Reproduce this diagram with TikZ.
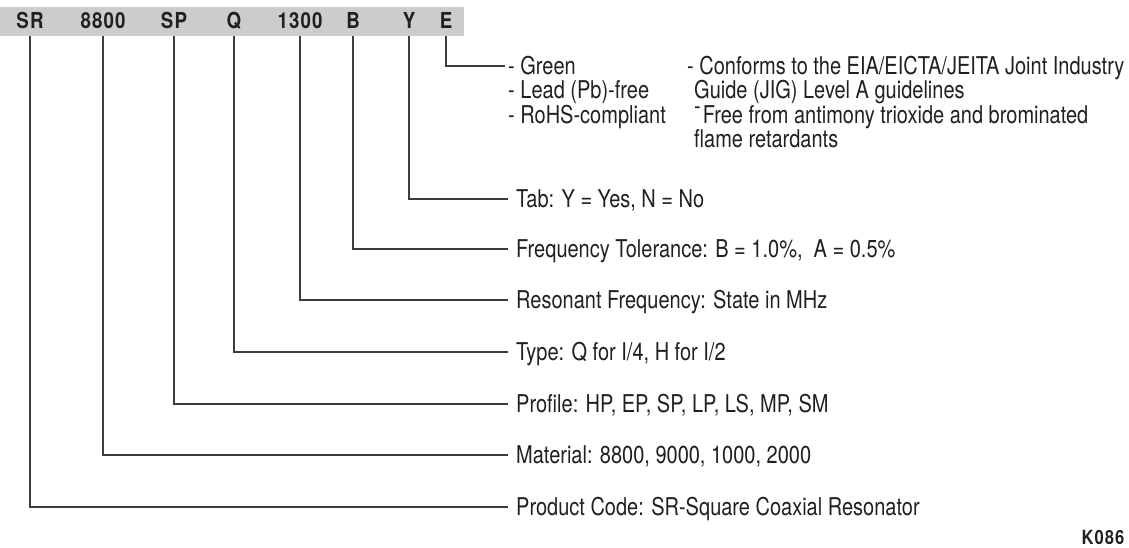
\documentclass[tikz,border=0pt]{standalone}
\usepackage{fontspec}
\setmainfont[FakeStretch=0.816]{TeX Gyre Heros}
\newfontfamily\hdrfont[FakeStretch=0.85, LetterSpace=5]{TeX Gyre Heros}
\usepackage{xcolor}
\usetikzlibrary{positioning}
\definecolor{ink}{HTML}{231F20}
\definecolor{barfill}{HTML}{CCCCCC}
\definecolor{leadline}{HTML}{3C3C3C}

\begin{document}
\begin{tikzpicture}[x=1pt, y=-1pt, text=ink,
        code/.style={font=\hdrfont\fontsize{22}{24}\selectfont\bfseries,
                     inner sep=0pt, text height=14pt, text depth=0pt,
                     minimum height=29pt},
        desc/.style={anchor=west, inner sep=0pt, inner xsep=8pt,
                     text height=17pt, text depth=0pt,
                     font=\fontsize{24.5}{26}\selectfont},
        note/.style={desc, inner xsep=3pt},
        lead/.style={draw=leadline, line width=1.2pt}]
      \useasboundingbox (0,0) rectangle (1129,548);
      % part number bar
      \fill[barfill] (0,7) rectangle (464,36);
      \foreach \name/\x/\txt in {sr/30/SR, mat/103/8800, prof/174/SP,
                                 type/234/Q, freq/300/1300, tol/353/B,
                                 tab/409/Y, env/446/E}
        \node[code] (\name) at (\x,21.5) {\txt};
      % descriptions
      \node[desc] (dtab)  at (508,199) {Tab: Y = Yes, N = No};
      \node[desc] (dtol)  at (508,249) {Frequency Tolerance: B = 1.0\%,~ A = 0.5\%};
      \node[desc] (dfreq) at (508,300) {Resonant Frequency: State in MHz};
      \node[desc] (dtype) at (508,352) {Type: Q for I/4, H for I/2};
      \node[desc] (dprof) at (508,404) {Profile: HP, EP, SP, LP, LS, MP, SM};
      \node[desc] (dmat)  at (508,455) {Material: 8800, 9000, 1000, 2000};
      \node[desc] (dsr)   at (508,507) {Product Code: SR-Square Coaxial Resonator};
      % E options
      \node[note] (green) at (505,66)   {- Green};
      \node[note] (lead)  at (505,90.5) {- Lead (Pb)-free};
      \node[note] (rohs)  at (505,115)  {- RoHS-compliant};
      \node[note] (jig1)  at (684,66)   {- Conforms to the EIA/EICTA/JEITA Joint Industry};
      \node[note] (jig2)  at (691,90.5) {Guide (JIG) Level A guidelines};
      \node[note] (free1) at (691,115)  {\raisebox{0.38em}{-}\hspace{2pt}Free from antimony trioxide and brominated};
      \node[note] (free2) at (691,139.5){flame retardants};
      \node[font=\hdrfont\fontsize{19.5}{21}\selectfont\bfseries, inner sep=0pt]
            (ref) at (1103,537) {K086};
      \foreach \from/\to in {env/green, tab/dtab, tol/dtol, freq/dfreq,
                             type/dtype, prof/dprof, mat/dmat, sr/dsr}
        \draw[lead] (\from.south) |- (\to.west);
    \end{tikzpicture}
\end{document}
